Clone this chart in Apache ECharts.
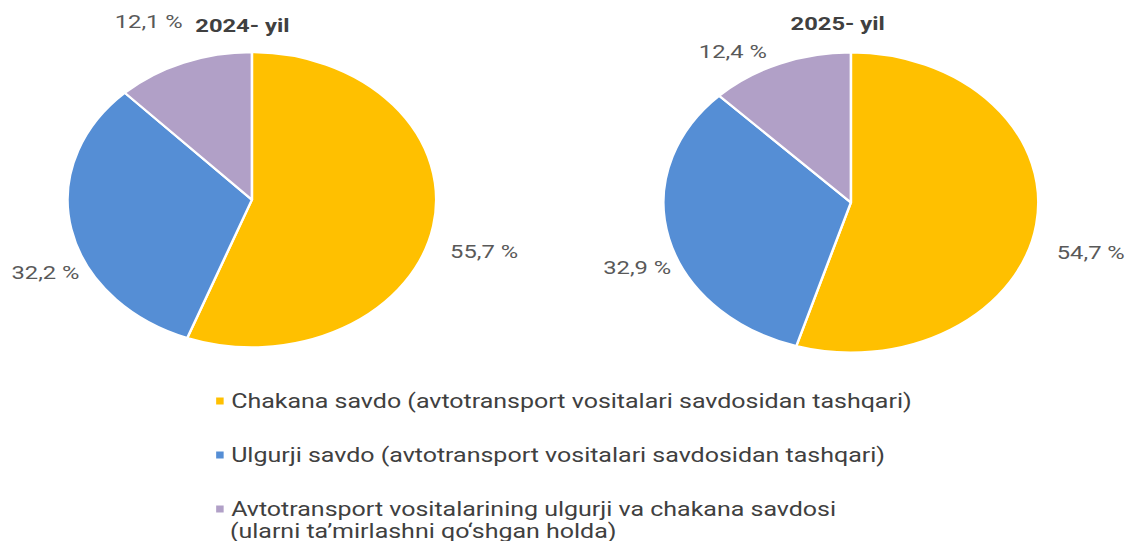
<!DOCTYPE html>
<html>
<head>
<meta charset="utf-8">
<script src="https://cdn.jsdelivr.net/npm/echarts@6/dist/echarts.min.js"></script>
<style>
  html, body { margin: 0; padding: 0; background: #fff; overflow: hidden; }
  /* the source picture is stretched sideways, so draw narrow and stretch the whole chart */
  #chart { width: 902px; height: 541px; transform: scaleX(1.24945); transform-origin: 0 0; }
</style>
</head>
<body>
<div id="chart"></div>
<script>
  // data
  const categories = [
    'Chakana savdo (avtotransport vositalari savdosidan tashqari)',
    'Ulgurji savdo (avtotransport vositalari savdosidan tashqari)',
    'Avtotransport vositalarining ulgurji va chakana savdosi\n(ularni ta\u2019mirlashni qo\u2018shgan holda)'
  ]
  const years = ['2024- yil', '2025- yil']
  const shares2024 = [55.7, 32.2, 12.1]
  const shares2025 = [54.7, 32.9, 12.4]

  // look
  const colors = ['#FFC000', '#558ED5', '#B1A0C7']
  const font = 'Roboto, "Noto Sans", sans-serif'
  const pies = [
    {
      shares: shares2024,
      center: [201.6, 199.75], r: 147.5,
      titleX: 189, titleY: 11,
      labelAt: [[1.26, -0.35], [-1.12, -0.49], [-0.56, 1.21]]
    },
    {
      shares: shares2025,
      center: [681, 202.5], r: 150,
      titleX: 665.5, titleY: 9,
      labelAt: [[1.28, -0.33], [-1.14, -0.43], [-0.63, 1.01]]
    }
  ]

  const fmt = v => v.toFixed(1).replace('.', ',') + ' %'
  const legendLines = categories[2].split('\n')

  const chart = echarts.init(document.getElementById('chart'), null, { renderer: 'svg' })

  chart.setOption({
    animation: false,
    color: colors,
    title: pies.map((pie, p) => ({
      text: years[p],
      left: pie.titleX,
      top: pie.titleY,
      textAlign: 'center',
      textStyle: { fontFamily: font, fontSize: 19, fontWeight: 'bold', color: '#404040' }
    })),
    legend: {
      data: categories,
      orient: 'vertical',
      left: 166,
      top: 384,
      height: 200,
      icon: 'rect',
      itemWidth: 8,
      itemHeight: 9,
      itemGap: 30,
      selectedMode: false,
      formatter: name => name.split('\n')[0],
      textStyle: { fontFamily: font, fontSize: 20, color: '#404040', lineHeight: 24 }
    },
    graphic: [{
      type: 'text',
      left: 184,
      top: 521,
      style: { text: legendLines[1], font: '20px ' + font, fill: '#404040' }
    }],
    series: pies.map(pie => ({
      type: 'pie',
      center: pie.center,
      radius: pie.r,
      startAngle: 90,
      clockwise: true,
      silent: true,
      itemStyle: { borderColor: '#fff', borderWidth: 2 },
      labelLine: { show: false },
      label: {
        position: 'outside',
        formatter: p => fmt(p.value),
        fontFamily: font,
        fontSize: 19,
        color: '#595959',
        overflow: 'none'
      },
      labelLayout: params => {
        const a = pie.labelAt[params.dataIndex]
        return {
          x: pie.center[0] + a[0] * pie.r,
          y: pie.center[1] - a[1] * pie.r,
          align: 'center',
          verticalAlign: 'middle'
        }
      },
      data: pie.shares.map((v, i) => ({ name: categories[i], value: v }))
    }))
  })
</script>
</body>
</html>
